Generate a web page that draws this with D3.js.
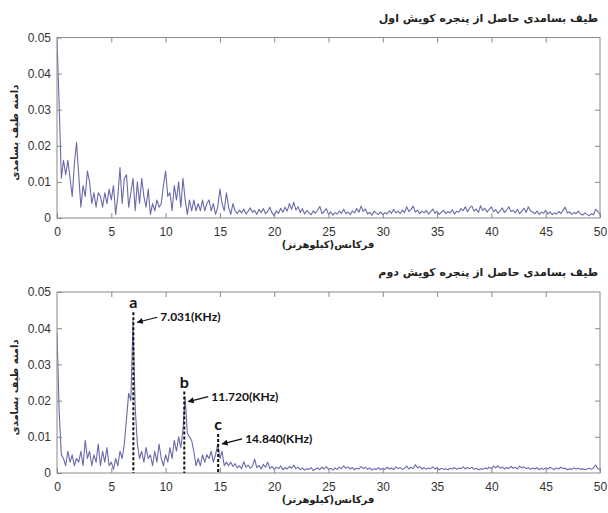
<!DOCTYPE html>
<html>
<head>
<meta charset="utf-8">
<script src="https://cdn.jsdelivr.net/npm/d3@7/dist/d3.min.js"></script>
<style>
  html, body { margin: 0; padding: 0; background: #fff; }
  svg { display: block; }
  .tick-label { font-family: "Liberation Sans", Arial, sans-serif; font-size: 12px; fill: #333; }
  .fa { font-family: "DejaVu Sans", sans-serif; font-weight: bold; fill: #222; }
  .note { font-family: Lato, "Open Sans", sans-serif; font-weight: bold; fill: #111; }
</style>
</head>
<body>
<svg id="chart" width="608" height="513"></svg>
<script>
// Frequency bins (kHz) shared by both spectra
const freqStep = 0.2;
const freqMax = 50;

// Amplitude spectrum, first sweep window (one value per 0.2 kHz bin, 0..50 kHz)
const spectrumWindow1 = [
  0.050, 0.031, 0.011, 0.016, 0.012, 0.016, 0.011, 0.006, 0.015, 0.021,
  0.012, 0.003, 0.009, 0.006, 0.013, 0.010, 0.004, 0.007, 0.003, 0.007,
  0.006, 0.003, 0.007, 0.004, 0.008, 0.005, 0.009, 0.001, 0.006, 0.014,
  0.004, 0.011, 0.012, 0.003, 0.007, 0.011, 0.002, 0.010, 0.004, 0.011,
  0.006, 0.003, 0.008, 0.001, 0.004, 0.002, 0.005, 0.003, 0.004, 0.009,
  0.013, 0.006, 0.007, 0.002, 0.009, 0.005, 0.010, 0.003, 0.011, 0.005,
  0.001, 0.005, 0.002, 0.005, 0.002, 0.004, 0.002, 0.005, 0.002, 0.004,
  0.005, 0.002, 0.004, 0.001, 0.003, 0.008, 0.004, 0.002, 0.007, 0.003,
  0.001, 0.004, 0.002, 0.0012, 0.0022, 0.0014, 0.0025, 0.0011, 0.0019, 0.0028,
  0.0016, 0.0021, 0.0010, 0.0024, 0.0015, 0.0026, 0.0012, 0.0018, 0.0030, 0.0014,
  0.0006, 0.0020, 0.0013, 0.0027, 0.0016, 0.0030, 0.0019, 0.0040, 0.0024, 0.0044,
  0.0022, 0.0031, 0.0015, 0.0026, 0.0011, 0.0021, 0.0014, 0.0009, 0.0020, 0.0013,
  0.0022, 0.0032, 0.0012, 0.0018, 0.0026, 0.0010, 0.0017, 0.0008, 0.0015, 0.0011,
  0.0019, 0.0013, 0.0024, 0.0012, 0.0017, 0.0009, 0.0020, 0.0014, 0.0026, 0.0016,
  0.0033, 0.0018, 0.0025, 0.0011, 0.0016, 0.0008, 0.0019, 0.0013, 0.0010, 0.0017,
  0.0009, 0.0015, 0.0011, 0.0020, 0.0013, 0.0024, 0.0014, 0.0019, 0.0012, 0.0022,
  0.0015, 0.0031, 0.0018, 0.0024, 0.0033, 0.0016, 0.0022, 0.0012, 0.0019, 0.0014,
  0.0021, 0.0011, 0.0017, 0.0025, 0.0013, 0.0018, 0.0010, 0.0016, 0.0021, 0.0012,
  0.0018, 0.0014, 0.0023, 0.0011, 0.0019, 0.0016, 0.0026, 0.0020, 0.0031, 0.0017,
  0.0028, 0.0033, 0.0019, 0.0025, 0.0015, 0.0034, 0.0021, 0.0027, 0.0016, 0.0024,
  0.0031, 0.0017, 0.0023, 0.0013, 0.0020, 0.0028, 0.0015, 0.0022, 0.0031, 0.0018,
  0.0021, 0.0014, 0.0024, 0.0012, 0.0019, 0.0027, 0.0015, 0.0031, 0.0020, 0.0016,
  0.0012, 0.0019, 0.0010, 0.0016, 0.0013, 0.0021, 0.0011, 0.0017, 0.0009, 0.0014,
  0.0011, 0.0018, 0.0012, 0.0021, 0.0030, 0.0014, 0.0017, 0.0010, 0.0015, 0.0012,
  0.0019, 0.0011, 0.0008, 0.0014, 0.0010, 0.0006, 0.0012, 0.0009, 0.0024, 0.0018,
  0.0010
];

// Amplitude spectrum, second sweep window
const spectrumWindow2 = [
  0.039, 0.017, 0.005, 0.004, 0.002, 0.006, 0.003, 0.005, 0.002, 0.004,
  0.003, 0.006, 0.002, 0.009, 0.004, 0.006, 0.002, 0.005, 0.003, 0.008,
  0.002, 0.006, 0.003, 0.007, 0.002, 0.003, 0.001, 0.004, 0.002, 0.006,
  0.004, 0.008, 0.015, 0.022, 0.020, 0.042, 0.018, 0.008, 0.004, 0.006,
  0.003, 0.007, 0.004, 0.005, 0.002, 0.006, 0.003, 0.008, 0.004, 0.002,
  0.005, 0.003, 0.007, 0.004, 0.009, 0.006, 0.010, 0.007, 0.012, 0.021,
  0.011, 0.010, 0.009, 0.006, 0.002, 0.004, 0.002, 0.005, 0.003, 0.005,
  0.004, 0.006, 0.003, 0.005, 0.008, 0.004, 0.006, 0.002, 0.003, 0.002,
  0.0030, 0.0018, 0.0026, 0.0014, 0.0020, 0.0012, 0.0031, 0.0016, 0.0022, 0.0013,
  0.0019, 0.0038, 0.0015, 0.0021, 0.0011, 0.0024, 0.0016, 0.0030, 0.0012, 0.0018,
  0.0010, 0.0016, 0.0012, 0.0020, 0.0009, 0.0015, 0.0011, 0.0018, 0.0013, 0.0022,
  0.0012, 0.0016, 0.0009, 0.0014, 0.0008, 0.0012, 0.0010, 0.0015, 0.0007, 0.0011,
  0.0014, 0.0009, 0.0016, 0.0011, 0.0018, 0.0010, 0.0013, 0.0008, 0.0014, 0.0010,
  0.0016, 0.0012, 0.0020, 0.0013, 0.0017, 0.0011, 0.0015, 0.0009, 0.0013, 0.0011,
  0.0018, 0.0012, 0.0016, 0.0010, 0.0014, 0.0008, 0.0012, 0.0010, 0.0015, 0.0009,
  0.0013, 0.0010, 0.0016, 0.0011, 0.0014, 0.0009, 0.0017, 0.0012, 0.0015, 0.0010,
  0.0013, 0.0019, 0.0011, 0.0016, 0.0012, 0.0023, 0.0014, 0.0018, 0.0011, 0.0015,
  0.0010, 0.0014, 0.0012, 0.0017, 0.0011, 0.0015, 0.0009, 0.0013, 0.0010, 0.0012,
  0.0009, 0.0013, 0.0011, 0.0015, 0.0010, 0.0014, 0.0012, 0.0017, 0.0011, 0.0015,
  0.0012, 0.0016, 0.0010, 0.0013, 0.0009, 0.0012, 0.0010, 0.0014, 0.0011, 0.0016,
  0.0012, 0.0019, 0.0014, 0.0020, 0.0013, 0.0017, 0.0011, 0.0015, 0.0012, 0.0018,
  0.0013, 0.0016, 0.0011, 0.0019, 0.0014, 0.0017, 0.0012, 0.0015, 0.0010, 0.0014,
  0.0011, 0.0015, 0.0009, 0.0013, 0.0010, 0.0014, 0.0011, 0.0016, 0.0012, 0.0010,
  0.0014, 0.0011, 0.0016, 0.0012, 0.0013, 0.0009, 0.0012, 0.0010, 0.0014, 0.0011,
  0.0013, 0.0010, 0.0012, 0.0009, 0.0011, 0.0013, 0.0010, 0.0014, 0.0022, 0.0012,
  0.0010
];

// Marked peaks in the second window: frequency (kHz), marker height, label
const peakLetters = ["a", "b", "c"];
const peakFreqs = [7.031, 11.720, 14.840];
const peakMarkerTops = [0.0444, 0.0225, 0.0108];
const peakLabels = ["7.031(KHz)", "11.720(KHz)", "14.840(KHz)"];

// Axis ticks
const xTicks = [0, 5, 10, 15, 20, 25, 30, 35, 40, 45, 50];
const yTicks = [0, 0.01, 0.02, 0.03, 0.04, 0.05];
const yTickLabels = ["0", "0.01", "0.02", "0.03", "0.04", "0.05"];

// Texts
const titles = ["طیف بسامدی حاصل از پنجره کویش اول", "طیف بسامدی حاصل از پنجره کویش دوم"];
const xTitle = "فرکانس(کیلوهرتز)";
const yTitle = "دامنه طیف بسامدی";

const svg = d3.select("#chart");

svg.append("defs").append("marker")
  .attr("id", "arrowhead")
  .attr("viewBox", "0 0 10 10")
  .attr("refX", 9).attr("refY", 5)
  .attr("markerWidth", 7).attr("markerHeight", 6)
  .attr("markerUnits", "userSpaceOnUse")
  .attr("orient", "auto")
  .append("path").attr("d", "M0,0 L10,5 L0,10 z").attr("fill", "#111");

const panels = [
  { top: 37.5, bottom: 218, values: spectrumWindow1, title: titles[0], peaks: false },
  { top: 292, bottom: 473, values: spectrumWindow2, title: titles[1], peaks: true }
];
const plotLeft = 57, plotRight = 600;

panels.forEach(p => {
  const x = d3.scaleLinear().domain([0, freqMax]).range([plotLeft, plotRight]);
  const y = d3.scaleLinear().domain([0, 0.05]).range([p.bottom, p.top]);
  const g = svg.append("g");

  const clipId = "clip" + Math.round(p.top);
  g.append("clipPath").attr("id", clipId)
    .append("rect").attr("x", plotLeft).attr("y", p.top)
    .attr("width", plotRight - plotLeft).attr("height", p.bottom - p.top);

  // spectrum trace
  const line = d3.line()
    .x((d, i) => x(i * freqStep))
    .y(d => y(d));
  g.append("path")
    .datum(p.values)
    .attr("clip-path", `url(#${clipId})`)
    .attr("fill", "none")
    .attr("stroke", "#6a6aab")
    .attr("stroke-width", 1.1)
    .attr("stroke-linejoin", "round")
    .attr("d", line);

  // axes with inward ticks on all four sides
  const axColor = "#8a8a8a";
  const styleAxis = sel => {
    sel.attr("font-family", null).attr("font-size", null);
    sel.select(".domain").remove();
    sel.selectAll(".tick line").attr("stroke", axColor);
    sel.selectAll(".tick text").attr("class", "tick-label").attr("fill", null);
  };
  g.append("g").attr("transform", `translate(0,${p.bottom})`)
    .call(d3.axisBottom(x).tickValues(xTicks).tickSize(-5).tickPadding(9).tickFormat(d3.format("d")))
    .call(styleAxis);
  g.append("g").attr("transform", `translate(0,${p.top})`)
    .call(d3.axisTop(x).tickValues(xTicks.slice(1, -1)).tickSize(-5).tickFormat(""))
    .call(styleAxis);
  g.append("g").attr("transform", `translate(${plotLeft},0)`)
    .call(d3.axisLeft(y).tickValues(yTicks).tickSize(-5).tickPadding(6)
      .tickFormat((d, i) => yTickLabels[i]))
    .call(styleAxis);
  g.append("g").attr("transform", `translate(${plotRight},0)`)
    .call(d3.axisRight(y).tickValues(yTicks.slice(1, -1)).tickSize(-5).tickFormat(""))
    .call(styleAxis);

  // plot frame
  g.append("rect")
    .attr("x", plotLeft).attr("y", p.top)
    .attr("width", plotRight - plotLeft).attr("height", p.bottom - p.top)
    .attr("fill", "none").attr("stroke", axColor).attr("stroke-width", 1);

  // titles
  g.append("text").attr("class", "fa")
    .attr("x", 598).attr("y", p.top - 16)
    .attr("text-anchor", "end")
    .style("font-size", "11px")
    .text(p.title);
  g.append("text").attr("class", "fa")
    .attr("x", 328).attr("y", p.bottom + 30)
    .attr("text-anchor", "middle").style("font-size", "10px")
    .text(xTitle);
  g.append("text").attr("class", "fa")
    .attr("transform", `translate(18,${(p.top + p.bottom) / 2 + 5}) rotate(-90)`)
    .attr("text-anchor", "middle").style("font-size", "10px")
    .text(yTitle);

  if (p.peaks) {
    peakFreqs.forEach((f, i) => {
      const px = x(f), pyTop = y(peakMarkerTops[i]);
      g.append("line")
        .attr("x1", px).attr("x2", px)
        .attr("y1", pyTop).attr("y2", p.bottom)
        .attr("stroke", "#111").attr("stroke-width", 2)
        .attr("stroke-dasharray", "3,2");
      g.append("text").attr("class", "note")
        .attr("x", px).attr("y", pyTop - 4)
        .attr("text-anchor", "middle").style("font-size", "16px")
        .text(peakLetters[i]);
      g.append("line")
        .attr("x1", px + 24).attr("y1", pyTop + 5)
        .attr("x2", px + 4).attr("y2", pyTop + 10)
        .attr("stroke", "#111").attr("stroke-width", 1.2)
        .attr("marker-end", "url(#arrowhead)");
      g.append("text").attr("class", "note")
        .attr("x", px + 27).attr("y", pyTop + 9)
        .style("font-size", "12px")
        .text(peakLabels[i]);
    });
  }
});
</script>
</body>
</html>
